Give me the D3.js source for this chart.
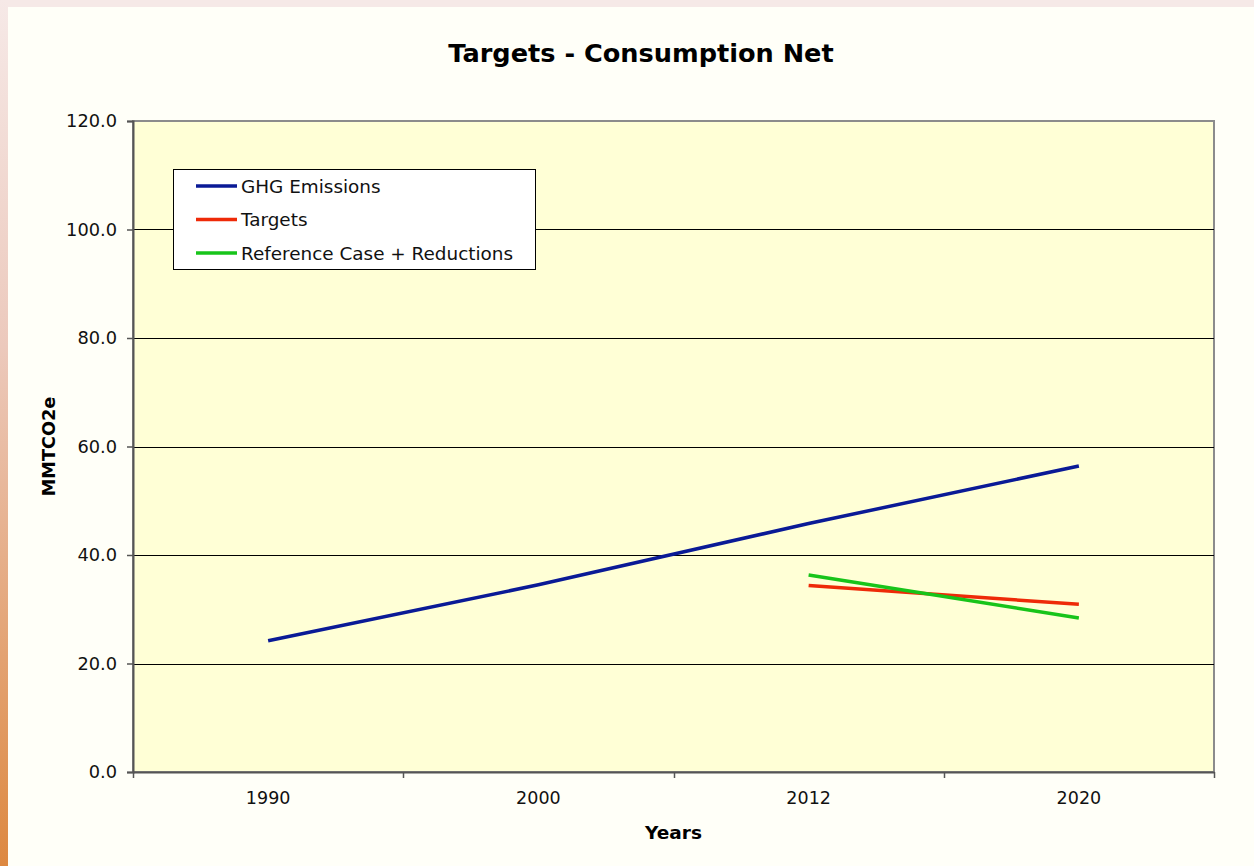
<!DOCTYPE html>
<html>
<head>
<meta charset="utf-8">
<script src="https://cdn.jsdelivr.net/npm/d3@7/dist/d3.min.js"></script>
<style>
  html, body { margin: 0; padding: 0; background: #fffff8; }
  svg { display: block; font-family: "DejaVu Sans", Verdana, sans-serif; }
</style>
</head>
<body>
<div id="chart"></div>
<script>
const years = ['1990', '2000', '2012', '2020'];
const ghgEmissions = [24.2, 34.5, 45.8, 56.4];
const targets = [null, null, 34.4, 30.9];
const referenceReductions = [null, null, 36.3, 28.4];
const yTicks = [0, 20, 40, 60, 80, 100, 120];

const seriesList = [
  { name: 'GHG Emissions', values: ghgEmissions, color: '#0a1a96' },
  { name: 'Targets', values: targets, color: '#ee2a08' },
  { name: 'Reference Case + Reductions', values: referenceReductions, color: '#17c41a' }
];

const W = 1254, H = 866;
const plot = { left: 133, top: 121, right: 1214, bottom: 772 };

const svg = d3.select('#chart').append('svg')
  .attr('width', W).attr('height', H).attr('viewBox', `0 0 ${W} ${H}`);

// page frame
const defs = svg.append('defs');
const grad = defs.append('linearGradient').attr('id', 'edge')
  .attr('x1', 0).attr('y1', 0).attr('x2', 0).attr('y2', 1);
grad.append('stop').attr('offset', '0%').attr('stop-color', '#f6e9e7');
grad.append('stop').attr('offset', '40%').attr('stop-color', '#ecc9bc');
grad.append('stop').attr('offset', '100%').attr('stop-color', '#dd8840');
svg.append('rect').attr('width', W).attr('height', H).attr('fill', '#fffff8');
svg.append('rect').attr('width', W).attr('height', 7).attr('fill', '#f6e9e7');
svg.append('rect').attr('width', 8).attr('height', H).attr('fill', 'url(#edge)');

const x = d3.scaleBand().domain(years).range([plot.left, plot.right]);
const y = d3.scaleLinear().domain([0, 120]).range([plot.bottom, plot.top]);

svg.append('rect')
  .attr('x', plot.left).attr('y', plot.top)
  .attr('width', plot.right - plot.left).attr('height', plot.bottom - plot.top)
  .attr('fill', '#ffffd6').attr('stroke', '#8c8c8c').attr('stroke-width', 2);

// gridlines
svg.append('g').selectAll('line').data(yTicks.filter(t => t > 0 && t < 120)).join('line')
  .attr('x1', plot.left).attr('x2', plot.right)
  .attr('y1', d => Math.round(y(d)) + 0.5).attr('y2', d => Math.round(y(d)) + 0.5)
  .attr('stroke', '#000').attr('stroke-width', 1);

// y axis
const yAxis = svg.append('g')
  .attr('transform', `translate(${plot.left},0)`)
  .call(d3.axisLeft(y).tickValues(yTicks).tickFormat(d3.format('.1f')).tickSize(6).tickPadding(10));
yAxis.select('.domain').attr('stroke', '#555').attr('stroke-width', 2);
yAxis.selectAll('.tick line').attr('stroke', '#555').attr('stroke-width', 1.5);
yAxis.selectAll('.tick text').attr('font-size', 17.8).attr('fill', '#111')
  .attr('font-family', '"DejaVu Sans", Verdana, sans-serif');

// x axis
const xAxis = svg.append('g')
  .attr('transform', `translate(0,${plot.bottom})`)
  .call(d3.axisBottom(x).tickSize(0).tickPadding(20));
xAxis.select('.domain').attr('stroke', '#555').attr('stroke-width', 2);
xAxis.selectAll('.tick text').attr('font-size', 17.5).attr('fill', '#111')
  .attr('font-family', '"DejaVu Sans", Verdana, sans-serif');
const sep = years.map(d => x(d)).concat([x(years[years.length - 1]) + x.bandwidth()]);
svg.append('g').selectAll('line').data(sep).join('line')
  .attr('x1', d => Math.round(d) + 0.5).attr('x2', d => Math.round(d) + 0.5)
  .attr('y1', plot.bottom).attr('y2', plot.bottom + 6)
  .attr('stroke', '#555').attr('stroke-width', 1.5);

// lines
const line = d3.line()
  .defined(d => d.v != null)
  .x(d => x(d.year) + x.bandwidth() / 2)
  .y(d => y(d.v));
seriesList.forEach(s => {
  svg.append('path')
    .datum(years.map((yr, i) => ({ year: yr, v: s.values[i] })))
    .attr('d', line).attr('fill', 'none')
    .attr('stroke', s.color).attr('stroke-width', 3.5);
});

// titles
svg.append('text').attr('x', 641).attr('y', 62).attr('text-anchor', 'middle')
  .attr('font-size', 25.6).attr('font-weight', 'bold').attr('fill', '#000')
  .text('Targets - Consumption Net');
svg.append('text').attr('x', (plot.left + plot.right) / 2).attr('y', 839)
  .attr('text-anchor', 'middle').attr('font-size', 18.5).attr('font-weight', 'bold')
  .text('Years');
svg.append('text')
  .attr('transform', `translate(55,${(plot.top + plot.bottom) / 2}) rotate(-90)`)
  .attr('text-anchor', 'middle').attr('font-size', 17.7).attr('font-weight', 'bold')
  .text('MMTCO2e');

// legend
const lg = svg.append('g').attr('transform', 'translate(173,169)');
lg.append('rect').attr('x', 0.5).attr('y', 0.5).attr('width', 362).attr('height', 100)
  .attr('fill', '#fff').attr('stroke', '#000').attr('stroke-width', 1);
seriesList.forEach((s, i) => {
  const cy = 17 + i * 33.5;
  lg.append('line').attr('x1', 23).attr('x2', 64).attr('y1', cy).attr('y2', cy)
    .attr('stroke', s.color).attr('stroke-width', 3.5);
  lg.append('text').attr('x', 68).attr('y', cy + 6.5).attr('font-size', 18.4).attr('fill', '#111')
    .text(s.name);
});
</script>
</body>
</html>
